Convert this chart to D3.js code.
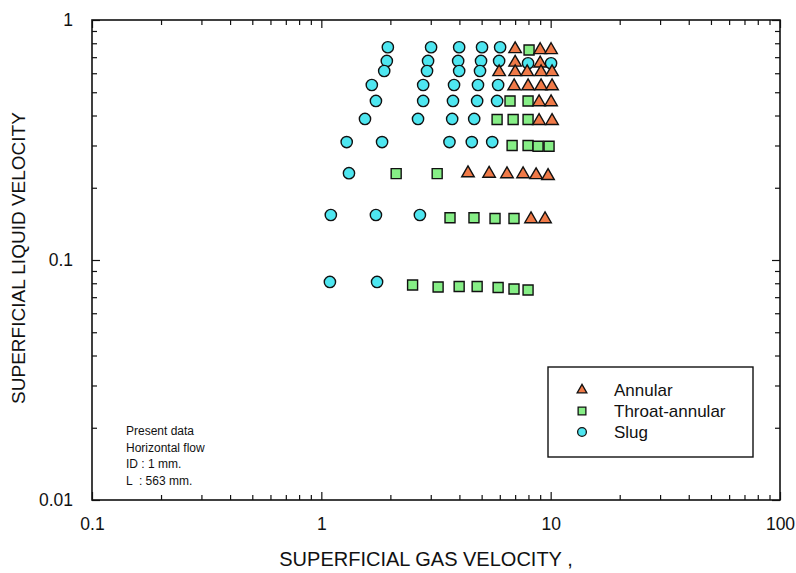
<!DOCTYPE html>
<html>
<head>
<meta charset="utf-8">
<script src="https://cdn.jsdelivr.net/npm/d3@7"></script>
<style>
  body { margin: 0; background: #fff; }
  text { font-family: "Liberation Sans", Arial, sans-serif; fill: #111; }
</style>
</head>
<body>
<script>
// data (gas velocity, liquid velocity)
var slugGas = [1.95, 3.01, 3.99, 5.02, 6.02,
               1.93, 2.92, 3.95, 4.97, 5.96, 7.97, 10.04,
               1.88, 2.89, 3.99, 4.92,
               1.66, 2.78, 3.79, 4.82, 5.90,
               1.73, 2.78, 3.75, 4.78, 5.84,
               1.55, 2.64, 3.72, 4.64,
               1.29, 1.84, 3.62, 4.53, 5.56,
               1.32,
               1.10, 1.73, 2.69,
               1.09, 1.75];
var slugLiquid = [0.77, 0.77, 0.77, 0.77, 0.77,
                  0.675, 0.675, 0.675, 0.675, 0.675, 0.66, 0.66,
                  0.613, 0.613, 0.613, 0.613,
                  0.536, 0.536, 0.536, 0.536, 0.536,
                  0.46, 0.46, 0.46, 0.46, 0.46,
                  0.387, 0.387, 0.387, 0.387,
                  0.31, 0.31, 0.31, 0.31, 0.31,
                  0.23,
                  0.154, 0.154, 0.154,
                  0.081, 0.081];

var throatGas = [8.05,
                 6.65, 7.97,
                 5.84, 6.86, 7.97,
                 6.79, 7.97, 8.81, 9.84,
                 2.12, 3.20,
                 3.64, 4.63, 5.72, 6.92,
                 2.50, 3.23, 3.99, 4.78, 5.90, 6.92, 7.97];
var throatLiquid = [0.75,
                    0.46, 0.46,
                    0.385, 0.385, 0.385,
                    0.30, 0.30, 0.298, 0.298,
                    0.229, 0.229,
                    0.15, 0.15, 0.149, 0.149,
                    0.0787, 0.0772, 0.0775, 0.0775, 0.0768, 0.0757, 0.075];

var annularGas = [7.0, 9.0, 10.04,
                  7.0, 9.0,
                  5.96, 7.0, 7.9, 9.08, 10.14,
                  6.93, 7.97, 9.08, 10.14,
                  8.9, 10.04,
                  8.9, 10.14,
                  4.36, 5.39, 6.45, 7.58, 8.64, 9.74,
                  8.21, 9.45];
var annularLiquid = [0.757, 0.75, 0.75,
                     0.665, 0.66,
                     0.607, 0.607, 0.607, 0.607, 0.607,
                     0.53, 0.53, 0.53, 0.53,
                     0.455, 0.455,
                     0.38, 0.38,
                     0.23, 0.229, 0.228, 0.228, 0.226, 0.224,
                     0.148, 0.148];

var xDomain = [0.1, 100];
var yDomain = [0.01, 1];
var xLabels = [0.1, 1, 10, 100];
var yLabels = [0.01, 0.1, 1];

var legendNames = ["Annular", "Throat-annular", "Slug"];
var noteLines = ["Present data", "Horizontal flow", "ID : 1 mm.", "L  : 563 mm."];

var width = 796, height = 573;
var plotLeft = 92, plotRight = 780, plotTop = 20, plotBottom = 500;

var svg = d3.select("body").append("svg")
    .attr("width", width)
    .attr("height", height);

var x = d3.scaleLog().domain(xDomain).range([plotLeft, plotRight]);
var y = d3.scaleLog().domain(yDomain).range([plotBottom, plotTop]);

function isDecade(v) {
    return Math.abs(Math.log10(v) - Math.round(Math.log10(v))) < 1e-9;
}

// axes, ticks pointing inward on all four sides
function styleAxis(g, major, minor, dir) {
    g.select(".domain").remove();
    g.selectAll(".tick line")
        .attr("stroke", "#111")
        .attr("stroke-width", 1.2)
        .each(function(d) {
            d3.select(this).attr(dir, isDecade(d) ? major : minor);
        });
    g.selectAll(".tick text")
        .style("font-size", "17.5px")
        .attr("fill", "#111");
}

var xTicks = x.ticks();
var yTicks = y.ticks();

svg.append("g")
    .attr("transform", "translate(0," + plotBottom + ")")
    .call(d3.axisBottom(x).tickValues(xTicks).tickFormat(function(d) {
        return xLabels.indexOf(d) >= 0 ? String(d) : "";
    }).tickSizeOuter(0).tickPadding(12))
    .call(styleAxis, -8, -5, "y2");

svg.append("g")
    .attr("transform", "translate(0," + plotTop + ")")
    .call(d3.axisTop(x).tickValues(xTicks).tickFormat("").tickSizeOuter(0))
    .call(styleAxis, 8, 5, "y2");

svg.append("g")
    .attr("transform", "translate(" + plotLeft + ",0)")
    .call(d3.axisLeft(y).tickValues(yTicks).tickFormat(function(d) {
        return yLabels.indexOf(d) >= 0 ? String(d) : "";
    }).tickSizeOuter(0).tickPadding(13))
    .call(styleAxis, 8, 5, "x2");

svg.append("g")
    .attr("transform", "translate(" + plotRight + ",0)")
    .call(d3.axisRight(y).tickValues(yTicks).tickFormat("").tickSizeOuter(0))
    .call(styleAxis, -8, -5, "x2");

// frame
svg.append("rect")
    .attr("x", plotLeft).attr("y", plotTop)
    .attr("width", plotRight - plotLeft).attr("height", plotBottom - plotTop)
    .attr("fill", "none")
    .attr("stroke", "#111")
    .attr("stroke-width", 1.6);

// axis titles
svg.append("text")
    .attr("x", 426).attr("y", 566)
    .attr("text-anchor", "middle")
    .style("font-size", "20px")
    .text("SUPERFICIAL GAS VELOCITY ,");

svg.append("text")
    .attr("transform", "translate(25,258) rotate(-90)")
    .attr("text-anchor", "middle")
    .style("font-size", "19px")
    .text("SUPERFICIAL LIQUID VELOCITY");

// series
var series = [
    {gas: slugGas, liq: slugLiquid, shape: d3.symbolCircle, size: 100, color: "#4ee6f0"},
    {gas: throatGas, liq: throatLiquid, shape: d3.symbolSquare, size: 100, color: "#86ee86"},
    {gas: annularGas, liq: annularLiquid, shape: d3.symbolTriangle, size: 68, color: "#f07a48"}
];

series.forEach(function(s) {
    var pts = s.gas.map(function(g, i) { return [g, s.liq[i]]; });
    svg.append("g").selectAll("path")
        .data(pts)
        .enter().append("path")
        .attr("transform", function(d) {
            return "translate(" + x(d[0]) + "," + y(d[1]) + ")";
        })
        .attr("d", d3.symbol().type(s.shape).size(s.size))
        .attr("fill", s.color)
        .attr("stroke", "#111")
        .attr("stroke-width", 1.4);
});

// legend
var legend = svg.append("g");
legend.append("rect")
    .attr("x", 548).attr("y", 367)
    .attr("width", 205).attr("height", 90)
    .attr("fill", "#fff")
    .attr("stroke", "#111")
    .attr("stroke-width", 1.4);

var legendShapes = [series[2], series[1], series[0]];
var legendItems = legend.selectAll(".legend")
    .data(legendNames)
    .enter().append("g")
    .attr("class", "legend")
    .attr("transform", function(d, i) {
        return "translate(582," + (390 + i * 21) + ")";
    });

legendItems.append("path")
    .attr("d", function(d, i) {
        return d3.symbol().type(legendShapes[i].shape).size(legendShapes[i].size * 0.6)();
    })
    .attr("fill", function(d, i) { return legendShapes[i].color; })
    .attr("stroke", "#111")
    .attr("stroke-width", 1.3);

legendItems.append("text")
    .attr("x", 32)
    .attr("dy", "0.36em")
    .style("font-size", "17px")
    .text(function(d) { return d; });

// note in lower left
svg.append("g").selectAll("text")
    .data(noteLines)
    .enter().append("text")
    .attr("x", 126)
    .attr("y", function(d, i) { return 435 + i * 16.5; })
    .style("font-size", "12px")
    .style("white-space", "pre")
    .text(function(d) { return d; });
</script>
</body>
</html>
